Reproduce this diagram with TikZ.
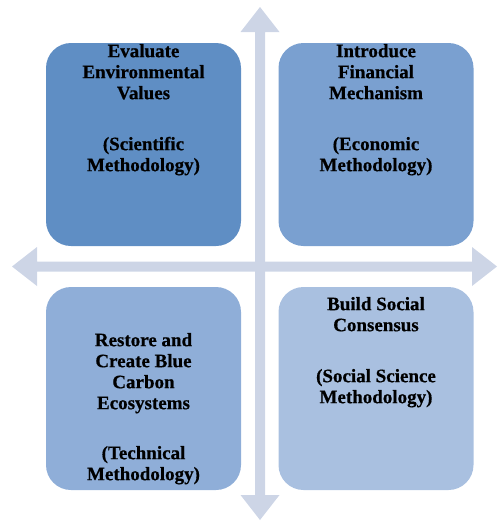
\documentclass[tikz,border=0pt]{standalone}
\usepackage{fontspec}
\setmainfont{Liberation Serif}
\newfontfamily\quadfont[FakeBold=0.6]{Liberation Serif}
\usetikzlibrary{positioning}

\definecolor{axisblue}{HTML}{CDD5E6}
\definecolor{sciblue}{HTML}{5F8EC4}
\definecolor{ecoblue}{HTML}{7AA0D0}
\definecolor{techblue}{HTML}{8FAED8}
\definecolor{socblue}{HTML}{A9C0E0}

\begin{document}
\begin{tikzpicture}[x=1pt, y=-1pt,
    quad/.style={rounded corners=25pt, minimum width=195pt, minimum height=203pt, inner sep=0pt},
    quadtext/.style={font=\quadfont\fontsize{19}{21}\selectfont\bfseries, align=center, inner sep=0pt, anchor=north}]
    \useasboundingbox (0,0) rectangle (499,523);
    % the two crossing block arrows
    \fill[axisblue] (12,266.5) -- (37,247) -- (37,261.5) -- (472,261.5) -- (472,247) -- (497,266.5)
        -- (472,286) -- (472,271.5) -- (37,271.5) -- (37,286) -- cycle;
    \fill[axisblue] (260,7) -- (279.5,32) -- (265,32) -- (265,495) -- (279.5,495) -- (260,520)
        -- (240.5,495) -- (255,495) -- (255,32) -- (240.5,32) -- cycle;
    % quadrants
    \node[quad, fill=sciblue]  (sci)  at (143.5,144.5) {};
    \node[quad, fill=ecoblue]  (eco)  at (376,144.5) {};
    \node[quad, fill=techblue] (tech) at (143.5,388.5) {};
    \node[quad, fill=socblue]  (soc)  at (376,388.5) {};
    \node[quadtext, below=1pt of sci.north] (scitext)
        {Evaluate\\Environmental\\Values\\[30pt](Scientific\\Methodology)};
    \node[quadtext, below=1pt of eco.north] (ecotext)
        {Introduce\\Financial\\Mechanism\\[30pt](Economic\\Methodology)};
    \node[quadtext, below=46pt of tech.north] (techtext)
        {Restore and\\Create Blue\\Carbon\\Ecosystems\\[29pt](Technical\\Methodology)};
    \node[quadtext, below=10pt of soc.north] (soctext)
        {Build Social\\Consensus\\[30pt](Social Science\\Methodology)};
\end{tikzpicture}
\end{document}
